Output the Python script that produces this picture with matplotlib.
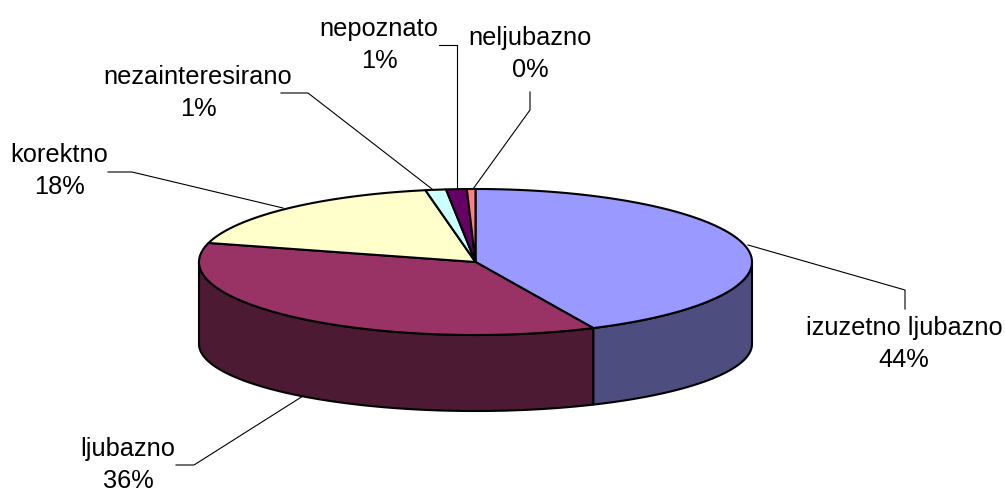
import numpy as np
import matplotlib
matplotlib.use('Agg')
import matplotlib.pyplot as plt

plt.rcParams['font.family'] = ['Liberation Sans', 'DejaVu Sans']

# shares as drawn (the 3d tilt of the original shifts them a bit from the labels)
categories = ['izuzetno ljubazno', 'ljubazno', 'korektno', 'nezainteresirano', 'nepoznato', 'neljubazno']
shares = [43.0, 36.2, 17.9, 1.2, 1.2, 0.5]
percent_labels = ['44%', '36%', '18%', '1%', '1%', '0%']

top_colors = ['#9999FF', '#993366', '#FFFFCC', '#CCFFFF', '#660066', '#FF8080']
side_colors = ['#4D4D80', '#4D1A33', '#808066', '#668080', '#330033', '#804040']

# label centre, then leader line points, in pixels
label_pos = [(904, 344), (128, 465), (59, 171), (198, 93), (379, 45), (530, 54)]
leaders = [
    [(905, 309), (905, 290), (748, 245)],
    [(176, 465), (194, 465), (303, 396)],
    [(108, 172), (132, 172), (283, 208)],
    [(281, 93), (308, 93), (432, 189)],
    [(439, 45), (457, 45), (457, 189)],
    [(530, 92), (530, 110), (473, 189)],
]

cx, cy = 475.5, 262
rx, ry = 276.5, 73
drop, ry_bottom = 82, 67


def rim(start, end, bottom=False):
    t = np.radians(np.linspace(start, end, max(int(abs(end - start) * 2), 2)))
    if bottom:
        return cx + rx * np.sin(t), cy + drop - ry_bottom * np.cos(t)
    return cx + rx * np.sin(t), cy - ry * np.cos(t)


fig = plt.figure(figsize=(10.05, 4.88), dpi=100)
ax = fig.add_axes([0, 0, 1, 1])
ax.set_xlim(0, 1005)
ax.set_ylim(488, 0)
ax.axis('off')

edges = np.concatenate([[0], np.cumsum(shares)]) / np.sum(shares) * 360

# walls first, only the front half of the rim shows
for i in range(len(shares)):
    a = max(edges[i], 90)
    b = min(edges[i + 1], 270)
    if b <= a:
        continue
    xt, yt = rim(a, b)
    xb, yb = rim(a, b, bottom=True)
    ax.fill(np.r_[xt, xb[::-1]], np.r_[yt, yb[::-1]], facecolor=side_colors[i],
            edgecolor='black', lw=1.5, joinstyle='round', zorder=2)

# top face
for i in range(len(shares)):
    xt, yt = rim(edges[i], edges[i + 1])
    ax.fill(np.r_[cx, xt], np.r_[cy, yt], facecolor=top_colors[i],
            edgecolor='black', lw=1.5, joinstyle='round', zorder=3)

for i in range(len(categories)):
    xs = [p[0] for p in leaders[i]]
    ys = [p[1] for p in leaders[i]]
    ax.plot(xs, ys, color='black', lw=0.8, zorder=1)
    ax.text(label_pos[i][0], label_pos[i][1], categories[i] + '\n' + percent_labels[i],
            ha='center', va='center', fontsize=18.3, linespacing=1.45, color='black')

fig.savefig('out.png', dpi=100)
